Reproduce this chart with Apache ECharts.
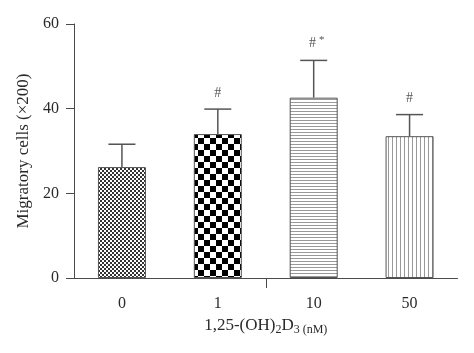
<!DOCTYPE html>
<html>
<head>
<meta charset="utf-8">
<script src="https://cdn.jsdelivr.net/npm/echarts@6/dist/echarts.min.js"></script>
<style>
  html, body { margin: 0; padding: 0; background: #fff; }
  #main { width: 474px; height: 353px; }
</style>
</head>
<body>
<div id="main"></div>
<script>
var categories = ['0', '1', '10', '50'];
var means = [26.2, 34.0, 42.6, 33.5];
var errors = [5.4, 5.9, 8.8, 5.1];
var marks = ['', '#', '#*', '#'];
var yTicks = [0, 20, 40, 60];

var FONT = '"Liberation Serif", "DejaVu Serif", serif';
var AXIS = '#4a4a4a';
var TEXT = '#2a2a2a';

// pattern fills
function pattern(w, h, draw) {
  var c = document.createElement('canvas');
  c.width = w; c.height = h;
  var ctx = c.getContext('2d');
  ctx.fillStyle = '#fff';
  ctx.fillRect(0, 0, w, h);
  draw(ctx);
  return { image: c, repeat: 'repeat' };
}
function checker(cell, col) {
  return pattern(cell * 2, cell * 2, function (ctx) {
    ctx.fillStyle = col;
    ctx.fillRect(0, 0, cell, cell);
    ctx.fillRect(cell, cell, cell, cell);
  });
}
var fills = [
  checker(2, '#333'),
  checker(6, '#000'),
  pattern(3, 3, function (ctx) { ctx.fillStyle = '#999'; ctx.fillRect(0, 0, 3, 1); }),
  pattern(4, 4, function (ctx) { ctx.fillStyle = '#999'; ctx.fillRect(0, 0, 1, 4); })
];

var chart = echarts.init(document.getElementById('main'));
chart.setOption({
  animation: false,
  grid: { left: 74, right: 16.5, top: 24, bottom: 75 },
  xAxis: [{
    type: 'category',
    data: categories,
    axisLine: { onZero: false, lineStyle: { color: AXIS, width: 1 } },
    axisTick: { show: false },
    axisLabel: { color: TEXT, fontFamily: FONT, fontSize: 16, margin: 18 },
    name: '{a|1,25-(OH)}{s|2}{a|D}{s|3}{n| (nM)}',
    nameLocation: 'middle',
    nameGap: 27,
    nameTextStyle: {
      rich: {
        a: { fontFamily: FONT, fontSize: 17, color: TEXT },
        s: { fontFamily: FONT, fontSize: 12, color: TEXT, padding: [9, 0, 0, 0] },
        n: { fontFamily: FONT, fontSize: 12, color: TEXT, padding: [9, 0, 0, 0] }
      }
    }
  }, {
    // helper axis for the single tick between the middle bars
    type: 'value',
    position: 'bottom',
    min: -0.5,
    max: categories.length - 0.5,
    axisLine: { show: false, onZero: false },
    axisLabel: { show: false },
    splitLine: { show: false },
    axisTick: { show: true, length: 10, customValues: [1.5], lineStyle: { color: AXIS } }
  }],
  yAxis: {
    type: 'value',
    min: yTicks[0],
    max: yTicks[yTicks.length - 1],
    interval: 20,
    splitLine: { show: false },
    axisLine: { show: true, onZero: false, lineStyle: { color: AXIS, width: 1 } },
    axisTick: { show: true, length: 8, lineStyle: { color: AXIS } },
    axisLabel: { color: TEXT, fontFamily: FONT, fontSize: 16, margin: 15 },
    name: 'Migratory cells (\u00d7200)',
    nameLocation: 'middle',
    nameGap: 42,
    nameTextStyle: { fontFamily: FONT, fontSize: 17, color: TEXT }
  },
  series: [
    {
      type: 'bar',
      barWidth: 48,
      data: means.map(function (v, i) {
        return {
          value: v,
          itemStyle: { color: fills[i], borderColor: '#555', borderWidth: 1 }
        };
      }),
      z: 2
    },
    {
      type: 'custom',
      z: 3,
      data: means.map(function (v, i) { return [i, v, v + errors[i]]; }),
      renderItem: function (params, api) {
        var base = api.coord([api.value(0), api.value(1)]);
        var top = api.coord([api.value(0), api.value(2)]);
        var half = 13.5;
        var m = marks[params.dataIndex];
        var txt = m.replace('#', '{h|#}').replace('*', '{t|*}');
        return {
          type: 'group',
          children: [
            { type: 'line', shape: { x1: base[0], y1: base[1], x2: top[0], y2: top[1] },
              style: { stroke: '#555', lineWidth: 1.5 } },
            { type: 'line', shape: { x1: top[0] - half, y1: top[1], x2: top[0] + half, y2: top[1] },
              style: { stroke: '#555', lineWidth: 1.5 } },
            { type: 'text', x: top[0] + (m.length > 1 ? 3 : 0), y: top[1] - 9,
              style: {
                text: txt, align: 'center', verticalAlign: 'bottom',
                rich: {
                  h: { fontFamily: FONT, fontSize: 14, fill: '#555' },
                  t: { fontFamily: FONT, fontSize: 11, fill: '#555', padding: [0, 0, 6, 3] }
                }
              } }
          ]
        };
      }
    }
  ]
});
</script>
</body>
</html>
